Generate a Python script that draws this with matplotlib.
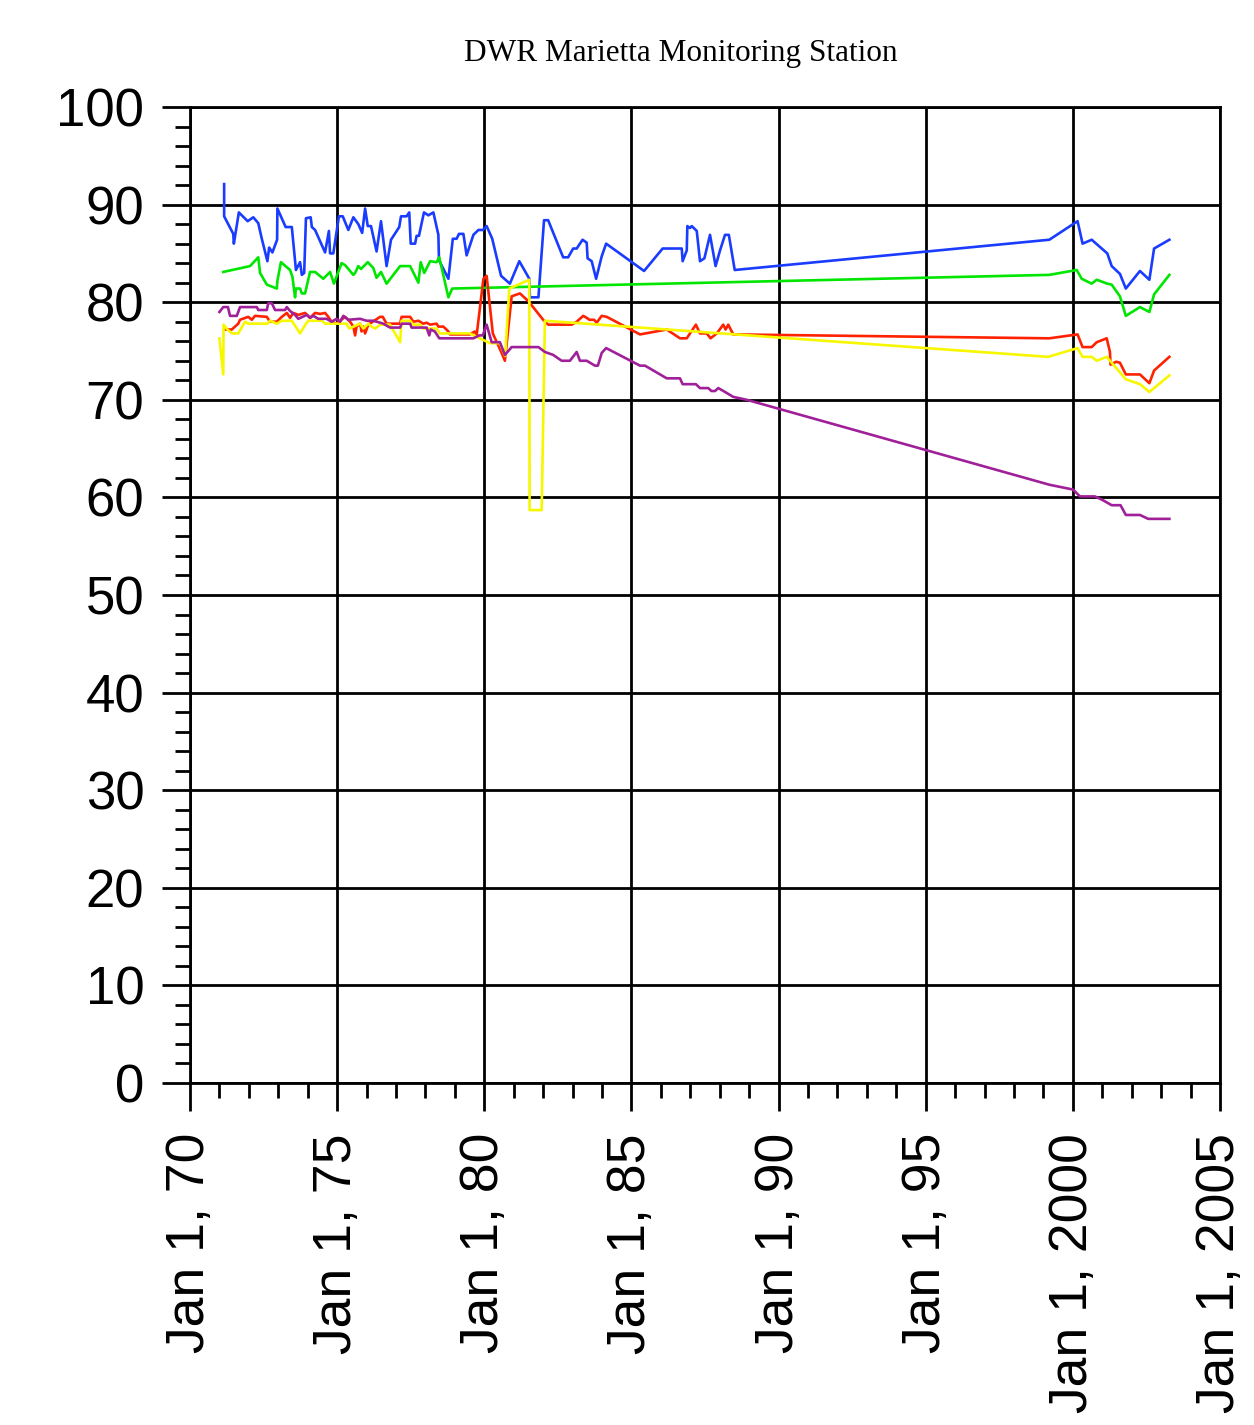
import matplotlib
matplotlib.use('Agg')
import matplotlib.pyplot as plt
from matplotlib.ticker import MultipleLocator

# data (decimal year, value)
blue_t = [1971.16, 1971.16, 1971.47, 1971.49, 1971.66, 1971.96, 1972.15, 1972.32, 1972.44, 1972.63,
          1972.69, 1972.80, 1972.96, 1972.97, 1973.25, 1973.46, 1973.60, 1973.74, 1973.80, 1973.88,
          1973.94, 1974.10, 1974.14, 1974.25, 1974.59, 1974.72, 1974.76, 1974.87, 1975.06, 1975.19,
          1975.38, 1975.55, 1975.72, 1975.85, 1975.95, 1976.04, 1976.15, 1976.34, 1976.49, 1976.68,
          1976.83, 1977.11, 1977.17, 1977.36, 1977.45, 1977.50, 1977.65, 1977.70, 1977.78, 1977.95,
          1978.10, 1978.27, 1978.44, 1978.46, 1978.78, 1978.93, 1979.06, 1979.14, 1979.29, 1979.40,
          1979.63, 1979.80, 1979.95, 1980.08, 1980.27, 1980.57, 1980.87, 1981.19, 1981.53, 1981.55,
          1981.84, 1982.03, 1982.17, 1982.68, 1982.85, 1983.02, 1983.14, 1983.34, 1983.48, 1983.51,
          1983.65, 1983.80, 1983.99, 1984.14, 1985.43, 1986.06, 1986.71, 1986.74, 1986.88, 1986.90,
          1986.99, 1987.05, 1987.22, 1987.33, 1987.48, 1987.67, 1987.86, 1988.01, 1988.18, 1988.31,
          1988.51, 1999.20, 2000.16, 2000.33, 2000.64, 2001.17, 2001.32, 2001.60, 2001.80, 2002.28,
          2002.60, 2002.76, 2003.28]
blue_v = [92.1, 88.8, 87.0, 86.0, 89.2, 88.3, 88.7, 88.1, 86.5, 84.2,
          85.6, 85.1, 86.4, 89.6, 87.7, 87.7, 83.3, 84.1, 82.8, 83.0,
          88.6, 88.7, 87.7, 87.4, 85.1, 87.3, 85.0, 85.0, 88.8, 88.8,
          87.4, 88.7, 88.0, 87.1, 89.6, 87.8, 87.8, 85.2, 88.3, 83.7,
          86.4, 87.7, 88.8, 88.8, 89.2, 86.0, 86.0, 86.8, 86.8, 89.2,
          88.9, 89.2, 86.9, 84.3, 82.4, 86.5, 86.5, 87.0, 87.0, 84.8,
          86.9, 87.4, 87.4, 87.8, 86.5, 82.7, 81.9, 84.2, 82.4, 80.5,
          80.5, 88.4, 88.4, 84.6, 84.6, 85.5, 85.5, 86.4, 86.1, 84.5,
          84.2, 82.4, 84.7, 86.0, 83.2, 85.5, 85.5, 84.2, 85.3, 87.8,
          87.6, 87.8, 87.3, 84.2, 84.5, 86.9, 83.7, 85.3, 86.9, 86.9,
          83.3, 86.4, 88.3, 86.0, 86.4, 85.0, 83.7, 82.9, 81.4, 83.2,
          82.3, 85.5, 86.4]

green_t = [1971.13, 1972.04, 1972.32, 1972.38, 1972.61, 1972.95, 1972.97, 1973.09, 1973.40, 1973.48,
           1973.57, 1973.60, 1973.74, 1973.80, 1973.91, 1974.08, 1974.25, 1974.53, 1974.76, 1974.89,
           1975.15, 1975.27, 1975.55, 1975.61, 1975.72, 1975.81, 1976.04, 1976.23, 1976.34, 1976.49,
           1976.68, 1977.14, 1977.48, 1977.76, 1977.84, 1977.96, 1978.16, 1978.38, 1978.47, 1978.78,
           1978.91, 1999.20, 2000.13, 2000.30, 2000.64, 2000.81, 2001.17, 2001.32, 2001.60, 2001.80,
           2002.28, 2002.60, 2002.76, 2003.28]
green_v = [83.1, 83.7, 84.6, 83.0, 81.8, 81.4, 82.2, 84.1, 83.3, 82.6,
           80.5, 81.4, 81.4, 80.9, 80.9, 83.1, 83.1, 82.4, 83.1, 81.9,
           84.0, 83.8, 82.8, 83.0, 83.7, 83.4, 84.1, 83.5, 82.5, 83.1,
           81.9, 83.7, 83.7, 82.0, 84.1, 83.0, 84.2, 84.1, 84.6, 80.5,
           81.4, 82.8, 83.3, 82.4, 81.9, 82.3, 81.9, 81.8, 80.6, 78.6,
           79.5, 79.0, 80.8, 82.8]

red_t = [1971.19, 1971.42, 1971.64, 1971.70, 1971.98, 1972.10, 1972.21, 1972.61, 1972.72, 1972.95,
         1973.12, 1973.29, 1973.40, 1973.51, 1973.68, 1973.91, 1974.08, 1974.25, 1974.42, 1974.59,
         1974.70, 1974.81, 1974.98, 1975.27, 1975.44, 1975.55, 1975.61, 1975.66, 1975.78, 1975.83,
         1975.89, 1975.95, 1976.06, 1976.46, 1976.55, 1976.68, 1977.14, 1977.19, 1977.48, 1977.59,
         1977.76, 1977.93, 1978.04, 1978.16, 1978.38, 1978.44, 1978.61, 1978.78, 1978.83, 1979.51,
         1979.68, 1979.74, 1979.97, 1980.08, 1980.29, 1980.59, 1980.70, 1980.93, 1981.21, 1981.50,
         1982.00, 1982.17, 1982.97, 1983.14, 1983.36, 1983.48, 1983.57, 1983.73, 1983.82, 1983.99,
         1984.16, 1985.29, 1986.20, 1986.65, 1986.88, 1987.19, 1987.33, 1987.56, 1987.69, 1987.90,
         1988.12, 1988.20, 1988.29, 1988.46, 1999.20, 2000.16, 2000.33, 2000.64, 2000.81, 2001.15,
         2001.26, 2001.28, 2001.47, 2001.60, 2001.80, 2002.28, 2002.60, 2002.76, 2003.28]
red_v = [77.2, 77.2, 77.8, 78.2, 78.5, 78.2, 78.6, 78.5, 78.0, 78.0,
         78.5, 78.9, 78.4, 78.9, 78.7, 78.9, 78.4, 78.9, 78.8, 78.9,
         78.5, 78.0, 77.8, 78.5, 78.0, 77.5, 76.6, 77.5, 77.8, 77.0,
         77.5, 76.8, 77.7, 78.5, 78.5, 77.8, 77.8, 78.5, 78.5, 78.0,
         78.1, 77.8, 77.9, 77.7, 77.8, 77.5, 77.5, 77.0, 76.7, 76.7,
         77.0, 76.6, 82.4, 82.7, 76.8, 74.8, 74.0, 80.6, 80.9, 80.1,
         78.2, 77.7, 77.7, 78.0, 78.6, 78.4, 78.2, 78.2, 77.9, 78.6,
         78.5, 76.7, 77.2, 76.3, 76.3, 77.7, 76.8, 76.8, 76.3, 76.8,
         77.7, 77.2, 77.7, 76.7, 76.3, 76.7, 75.4, 75.4, 75.9, 76.3,
         74.9, 73.6, 73.9, 73.8, 72.6, 72.6, 71.7, 73.0, 74.4]

yellow_t = [1971.00, 1971.13, 1971.14, 1971.27, 1971.43, 1971.64, 1971.87, 1971.98, 1972.63, 1972.72,
            1972.95, 1973.12, 1973.46, 1973.74, 1973.94, 1974.02, 1974.48, 1974.59, 1975.32, 1975.41,
            1975.78, 1975.89, 1976.06, 1976.17, 1976.29, 1976.46, 1976.80, 1977.14, 1977.19, 1977.48,
            1977.59, 1977.82, 1977.93, 1978.38, 1978.49, 1979.51, 1979.85, 1980.19, 1980.53, 1980.71,
            1980.85, 1981.53, 1981.54, 1981.95, 1982.06, 1999.16, 2000.16, 2000.33, 2000.64, 2000.81,
            2001.15, 2001.80, 2002.28, 2002.60, 2003.28]
yellow_v = [76.3, 72.6, 77.7, 77.2, 76.8, 76.8, 78.0, 77.8, 77.8, 78.1,
            77.8, 78.1, 78.1, 76.8, 77.8, 78.1, 78.1, 77.8, 77.8, 77.3,
            77.8, 77.3, 77.8, 77.5, 77.3, 77.7, 77.7, 75.9, 78.1, 78.1,
            77.7, 77.7, 77.3, 77.3, 76.8, 76.8, 76.3, 75.8, 75.8, 74.5,
            81.4, 82.3, 58.7, 58.7, 78.1, 74.4, 75.3, 74.4, 74.4, 74.0,
            74.4, 72.1, 71.6, 70.8, 72.5]

purple_t = [1971.00, 1971.13, 1971.29, 1971.36, 1971.59, 1971.70, 1972.27, 1972.32, 1972.61, 1972.66,
            1972.78, 1972.89, 1973.23, 1973.29, 1973.40, 1973.57, 1973.68, 1973.97, 1974.08, 1974.19,
            1974.36, 1974.64, 1974.81, 1974.98, 1975.10, 1975.21, 1975.38, 1975.78, 1976.00, 1976.23,
            1976.57, 1976.68, 1976.80, 1977.14, 1977.19, 1977.48, 1977.53, 1978.04, 1978.13, 1978.18,
            1978.32, 1978.47, 1979.63, 1979.83, 1979.95, 1980.08, 1980.25, 1980.53, 1980.70, 1980.93,
            1981.84, 1982.06, 1982.34, 1982.63, 1982.91, 1983.14, 1983.25, 1983.48, 1983.76, 1983.86,
            1983.99, 1984.14, 1985.29, 1985.46, 1986.20, 1986.65, 1986.74, 1987.19, 1987.33, 1987.61,
            1987.72, 1987.84, 1987.95, 1988.07, 1988.46, 1988.92, 1999.20, 2000.01, 2000.24, 2000.75,
            2001.03, 2001.32, 2001.62, 2001.80, 2002.28, 2002.56, 2003.28]
purple_v = [79.0, 79.5, 79.5, 78.6, 78.6, 79.5, 79.5, 79.2, 79.2, 79.9,
            79.9, 79.2, 79.2, 79.5, 79.1, 78.7, 78.3, 78.7, 78.4, 78.6,
            78.3, 78.3, 78.0, 78.3, 78.0, 78.6, 78.2, 78.3, 78.1, 78.1,
            77.8, 77.6, 77.4, 77.4, 77.8, 77.8, 77.4, 77.4, 76.6, 77.2,
            77.0, 76.3, 76.3, 76.6, 76.6, 77.7, 75.9, 75.9, 74.6, 75.4,
            75.4, 74.9, 74.6, 74.0, 74.0, 74.9, 74.0, 74.0, 73.5, 73.5,
            74.8, 75.3, 73.5, 73.5, 72.2, 72.2, 71.6, 71.6, 71.2, 71.2,
            70.9, 70.9, 71.2, 71.0, 70.3, 70.0, 61.3, 60.8, 60.1, 60.1,
            59.7, 59.2, 59.2, 58.2, 58.2, 57.8, 57.8]

x_ticks = [1970, 1975, 1980, 1985, 1990, 1995, 2000, 2005]
x_labels = ['Jan 1, 70', 'Jan 1, 75', 'Jan 1, 80', 'Jan 1, 85',
            'Jan 1, 90', 'Jan 1, 95', 'Jan 1, 2000', 'Jan 1, 2005']
title = 'DWR Marietta Monitoring Station'

fig = plt.figure(figsize=(12.54, 14.25), dpi=100)
ax = fig.add_axes([190/1254, 1-1083/1425, 1030/1254, 976/1425])

lw = 1.9
ax.plot(blue_t, blue_v, color='#1a3cff', lw=lw, zorder=3)
ax.plot(green_t, green_v, color='#00e600', lw=lw, zorder=3)
ax.plot(red_t, red_v, color='#ff2200', lw=lw, zorder=3)
ax.plot(yellow_t, yellow_v, color='#f7f700', lw=lw, zorder=3)
ax.plot(purple_t, purple_v, color='#a0209a', lw=lw, zorder=3)

ax.set_xlim(1970, 2005)
ax.set_ylim(0, 100)
ax.set_xticks(x_ticks)
ax.set_xticklabels(x_labels, rotation=90, fontsize=38.5, family='Liberation Sans')
ax.xaxis.set_minor_locator(MultipleLocator(1))
ax.yaxis.set_major_locator(MultipleLocator(10))
ax.yaxis.set_minor_locator(MultipleLocator(2))
for lab in ax.get_yticklabels():
    lab.set_fontsize(38)
    lab.set_family('Liberation Sans')

ax.tick_params(which='major', direction='out', length=20, width=2, color='black')
ax.tick_params(axis='x', which='major', pad=16)
ax.tick_params(axis='y', which='major', pad=13)
ax.tick_params(which='minor', direction='out', length=11, width=2, color='black')
ax.grid(True, which='major', color='black', lw=2, zorder=1)
for s in ax.spines.values():
    s.set_linewidth(2)
    s.set_color('black')

fig.text(681/1254, 1-53/1425, title, ha='center', va='center',
         fontsize=22.5, family='Liberation Serif')

fig.savefig('out.png', dpi=100)
